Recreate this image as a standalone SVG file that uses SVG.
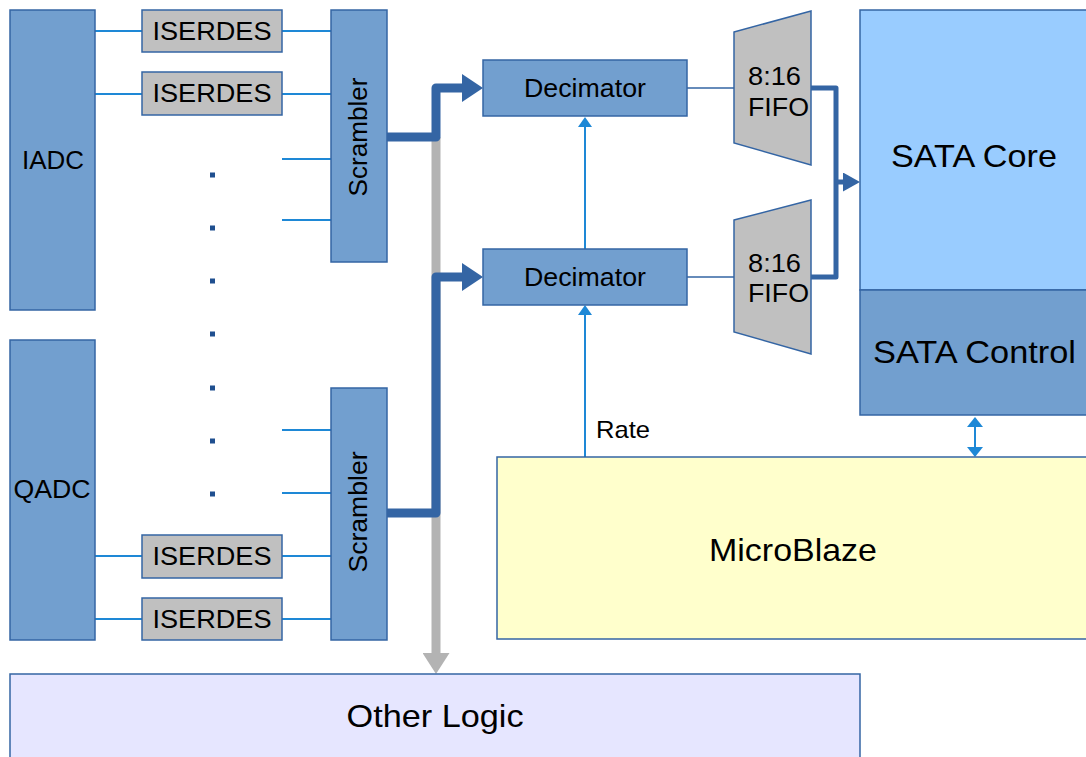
<svg xmlns="http://www.w3.org/2000/svg" width="1086" height="757" viewBox="0 0 1086 757">
<style>
text{font-family:"Liberation Sans",Arial,sans-serif;fill:#000}
.blk{fill:#729fcf;stroke:#3465a4;stroke-width:1.5}
.ser{fill:#c0c0c0;stroke:#3465a4;stroke-width:1.5}
.t26{font-size:26px}
.t32{font-size:32px}
.mid{text-anchor:middle}
.thin{fill:none;stroke:#1e88d6;stroke-width:2}
.dline{fill:none;stroke:#3465a4;stroke-width:1.5}
.bus{fill:none;stroke:#3465a4;stroke-width:9;stroke-linejoin:round}
.dot{fill:#1f4f8f}
</style>
<defs>
<marker id="hBus" markerUnits="userSpaceOnUse" markerWidth="21" markerHeight="28" refX="0" refY="14" orient="auto" viewBox="0 0 21 28"><path d="M0,0 L21,14 L0,28 z" fill="#3465a4"/></marker>
<marker id="hGrey" markerUnits="userSpaceOnUse" markerWidth="21" markerHeight="27" refX="0" refY="13.5" orient="auto" viewBox="0 0 21 27"><path d="M0,0 L21,13.5 L0,27 z" fill="#b3b3b3"/></marker>
<marker id="hFifo" markerUnits="userSpaceOnUse" markerWidth="17" markerHeight="19" refX="0" refY="9.5" orient="auto" viewBox="0 0 17 19"><path d="M0,0 L17,9.5 L0,19 z" fill="#3465a4"/></marker>
<marker id="hThin" markerUnits="userSpaceOnUse" markerWidth="10" markerHeight="14" refX="0" refY="7" orient="auto-start-reverse" viewBox="0 0 10 14"><path d="M0,0 L10,7 L0,14 z" fill="#1e88d6"/></marker>
<marker id="hDbl" markerUnits="userSpaceOnUse" markerWidth="10" markerHeight="16" refX="0" refY="8" orient="auto-start-reverse" viewBox="0 0 10 16"><path d="M0,0 L10,8 L0,16 z" fill="#1e88d6"/></marker>
</defs>

<g id="connectors">
<path class="thin" d="M95,31 H142 M282,31 H331 M95,94 H142 M282,94 H331 M282,159 H331 M282,220 H331 M282,430 H331 M282,493 H331 M95,556 H142 M282,556 H331 M95,619 H142 M282,619 H331"/>
<path d="M436,137 V653" fill="none" stroke="#b3b3b3" stroke-width="9" marker-end="url(#hGrey)"/>
<path class="bus" d="M387,137 H436 V88 H462" marker-end="url(#hBus)"/>
<path class="bus" d="M387,513 H436 V277 H462" marker-end="url(#hBus)"/>
<path class="dline" d="M687,88 H734 M687,277 H734"/>
<path d="M811,88 H836 V277 H811" fill="none" stroke="#3465a4" stroke-width="5" stroke-linejoin="round"/>
<path d="M836,182 H843" fill="none" stroke="#3465a4" stroke-width="5" marker-end="url(#hFifo)"/>
<path class="thin" d="M585,249 V127" marker-end="url(#hThin)"/>
<path class="thin" d="M585,457 V315" marker-end="url(#hThin)"/>
<path class="thin" d="M975,427 V447" marker-start="url(#hDbl)" marker-end="url(#hDbl)"/>
</g>

<g id="dots">
<rect class="dot" x="210" y="172.5" width="5" height="5"/>
<rect class="dot" x="210" y="225.5" width="5" height="5"/>
<rect class="dot" x="210" y="278.5" width="5" height="5"/>
<rect class="dot" x="210" y="331.5" width="5" height="5"/>
<rect class="dot" x="210" y="385.5" width="5" height="5"/>
<rect class="dot" x="210" y="438.5" width="5" height="5"/>
<rect class="dot" x="210" y="491.5" width="5" height="5"/>
</g>

<g id="iadc"><rect class="blk" x="10" y="10" width="85" height="300"/><text class="t26 mid" x="53" y="169" textLength="62" lengthAdjust="spacingAndGlyphs">IADC</text></g>
<g id="qadc"><rect class="blk" x="10" y="340" width="85" height="300"/><text class="t26 mid" x="52" y="498" textLength="77" lengthAdjust="spacingAndGlyphs">QADC</text></g>

<g id="iserdes1"><rect class="ser" x="142" y="10" width="140" height="42"/><text class="t26 mid" x="212" y="39.5" textLength="119" lengthAdjust="spacingAndGlyphs">ISERDES</text></g>
<g id="iserdes2"><rect class="ser" x="142" y="72" width="140" height="43"/><text class="t26 mid" x="212" y="102" textLength="119" lengthAdjust="spacingAndGlyphs">ISERDES</text></g>
<g id="iserdes3"><rect class="ser" x="142" y="535" width="140" height="43"/><text class="t26 mid" x="212" y="565" textLength="119" lengthAdjust="spacingAndGlyphs">ISERDES</text></g>
<g id="iserdes4"><rect class="ser" x="142" y="598" width="140" height="42"/><text class="t26 mid" x="212" y="627.5" textLength="119" lengthAdjust="spacingAndGlyphs">ISERDES</text></g>

<g id="scrambler1"><rect class="blk" x="331" y="10" width="56" height="252"/><text class="t26 mid" transform="translate(367,137) rotate(-90)" x="0" y="0" textLength="119" lengthAdjust="spacingAndGlyphs">Scrambler</text></g>
<g id="scrambler2"><rect class="blk" x="331" y="388" width="56" height="252"/><text class="t26 mid" transform="translate(367,512) rotate(-90)" x="0" y="0" textLength="121" lengthAdjust="spacingAndGlyphs">Scrambler</text></g>

<g id="decimator1"><rect class="blk" x="483" y="60" width="204" height="56"/><text class="t26 mid" x="585" y="97" textLength="122" lengthAdjust="spacingAndGlyphs">Decimator</text></g>
<g id="decimator2"><rect class="blk" x="483" y="249" width="204" height="56"/><text class="t26 mid" x="585" y="286" textLength="122" lengthAdjust="spacingAndGlyphs">Decimator</text></g>

<g id="fifo1"><polygon class="ser" points="734,32 811,11 811,165 734,143"/><text class="t26" x="748" y="85" textLength="53" lengthAdjust="spacingAndGlyphs">8:16</text><text class="t26" x="748" y="115.5" textLength="61" lengthAdjust="spacingAndGlyphs">FIFO</text></g>
<g id="fifo2"><polygon class="ser" points="734,220 811,200 811,354 734,332"/><text class="t26" x="748" y="272" textLength="53" lengthAdjust="spacingAndGlyphs">8:16</text><text class="t26" x="748" y="302" textLength="61" lengthAdjust="spacingAndGlyphs">FIFO</text></g>

<g id="sata-core"><rect x="860" y="10" width="232" height="280" fill="#99ccff" stroke="#3465a4" stroke-width="1.5"/><text class="t32 mid" x="974" y="167" textLength="166" lengthAdjust="spacingAndGlyphs">SATA Core</text></g>
<g id="sata-control"><rect class="blk" x="860" y="290" width="232" height="125"/><text class="t32 mid" x="974.5" y="363" textLength="203" lengthAdjust="spacingAndGlyphs">SATA Control</text></g>

<g id="microblaze"><rect x="497" y="457" width="595" height="182" fill="#ffffcc" stroke="#3465a4" stroke-width="1.5"/><text class="t32 mid" x="793" y="561" font-size="33" textLength="168" lengthAdjust="spacingAndGlyphs">MicroBlaze</text></g>
<g id="rate-label"><text x="596" y="438" font-size="24" textLength="54" lengthAdjust="spacingAndGlyphs">Rate</text></g>

<g id="other-logic"><rect x="10" y="674" width="850" height="90" fill="#e6e6ff" stroke="#3465a4" stroke-width="1.5"/><text class="t32 mid" x="435" y="727" font-size="31" textLength="177" lengthAdjust="spacingAndGlyphs">Other Logic</text></g>
</svg>
